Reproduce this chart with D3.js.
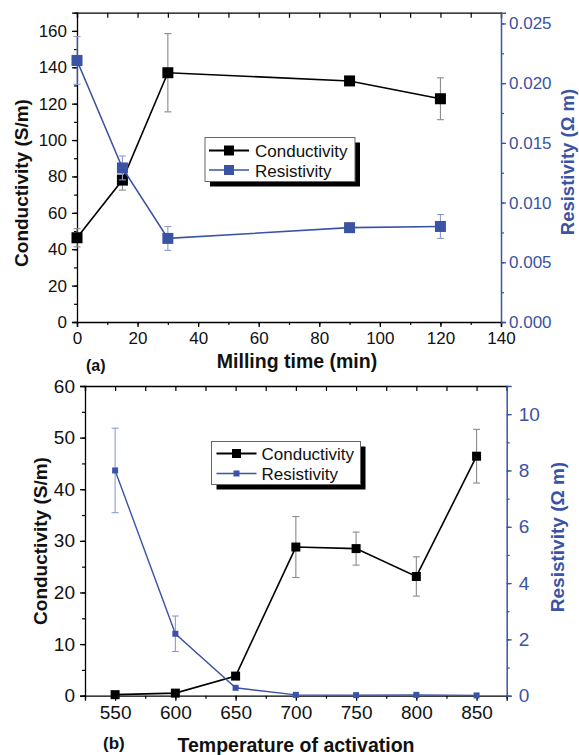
<!DOCTYPE html>
<html>
<head>
<meta charset="utf-8">
<script src="https://cdn.jsdelivr.net/npm/d3@7"></script>
<style>
  html, body { margin: 0; padding: 0; background: #fff; }
  svg { display: block; }
  text { font-family: "Liberation Sans", Arial, sans-serif; }
</style>
</head>
<body>
<svg id="chart" width="579" height="755"></svg>
<script>
// ---------- DATA ----------
// Panel (a): milling time
const millTime = [0, 15, 30, 90, 120];
const millConductivity = [46.3, 78, 137, 132.5, 122.7];
const millConductivityErr = [5, 5.5, 21.5, 0, 11.5];
const millResistivity = [0.0219, 0.0129, 0.0070, 0.0079, 0.0080];
const millResistivityErr = [0.002, 0.001, 0.001, 0, 0.001];
const millXTicks = [0, 20, 40, 60, 80, 100, 120, 140];
const millYLTicks = [0, 20, 40, 60, 80, 100, 120, 140, 160];
const millYRTicks = [0, 0.005, 0.010, 0.015, 0.020, 0.025];

// Panel (b): temperature of activation
const actTemp = [550, 600, 650, 700, 750, 800, 850];
const actConductivity = [0.2, 0.5, 3.8, 28.8, 28.5, 23.1, 46.4];
const actConductivityErr = [0, 0, 0, 5.9, 3.2, 3.8, 5.2];
const actResistivity = [8.0, 2.2, 0.28, 0.03, 0.02, 0.03, 0.01];
const actResistivityErr = [1.5, 0.63, 0, 0, 0, 0, 0];
const actXTicks = [550, 600, 650, 700, 750, 800, 850];
const actYLTicks = [0, 10, 20, 30, 40, 50, 60];
const actYRTicks = [0, 2, 4, 6, 8, 10];

const legendLabels = ["Conductivity", "Resistivity"];

// ---------- STYLE ----------
const BLUE = "#3a53a5";
const BLUE_ERR = "#8c9bd0";
const GREY_ERR = "#8a8a8a";

const svg = d3.select("#chart");

function panel(cfg) {
  const g = svg.append("g");
  const x = d3.scaleLinear().domain(cfg.xDomain).range(cfg.xRange);
  const yL = d3.scaleLinear().domain(cfg.yLDomain).range(cfg.yRange);
  const yR = d3.scaleLinear().domain(cfg.yRDomain).range(cfg.yRange);
  const [x0, x1] = cfg.xRange;
  const [yb, yt] = cfg.yRange;

  // top border with inward ticks
  const topAx = g.append("g").attr("transform", `translate(0,${yt})`)
    .call(d3.axisTop(x).tickValues(cfg.xMinorTicks).tickSize(-5).tickFormat(""));
  topAx.select(".domain").attr("stroke", "#000").attr("stroke-width", 1.3);
  topAx.selectAll(".tick line").attr("stroke", "#000").attr("stroke-width", 1.2);

  // bottom axis: minor
  const botMinor = g.append("g").attr("transform", `translate(0,${yb})`)
    .call(d3.axisBottom(x).tickValues(cfg.xMinorTicks).tickSize(3).tickFormat(""));
  botMinor.select(".domain").remove();
  botMinor.selectAll(".tick line").attr("stroke", "#000").attr("stroke-width", 1.2);
  // bottom axis: major
  const botAx = g.append("g").attr("transform", `translate(0,${yb})`)
    .call(d3.axisBottom(x).tickValues(cfg.xTicks).tickSize(5).tickPadding(cfg.xPad).tickFormat(d3.format("d")));
  botAx.select(".domain").attr("stroke", "#000").attr("stroke-width", 1.3);
  botAx.selectAll(".tick line").attr("stroke", "#000").attr("stroke-width", 1.3);
  botAx.selectAll(".tick text").attr("fill", "#111").style("font-size", cfg.tickFont + "px");

  // left axis
  const leftMinor = g.append("g").attr("transform", `translate(${x0},0)`)
    .call(d3.axisLeft(yL).tickValues(cfg.yLMinorTicks).tickSize(3).tickFormat(""));
  leftMinor.select(".domain").remove();
  leftMinor.selectAll(".tick line").attr("stroke", "#000").attr("stroke-width", 1.2);
  const leftAx = g.append("g").attr("transform", `translate(${x0},0)`)
    .call(d3.axisLeft(yL).tickValues(cfg.yLTicks).tickSize(5).tickPadding(5).tickFormat(d3.format("d")));
  leftAx.select(".domain").attr("stroke", "#000").attr("stroke-width", 1.3);
  leftAx.selectAll(".tick line").attr("stroke", "#000").attr("stroke-width", 1.3);
  leftAx.selectAll(".tick text").attr("fill", "#111").style("font-size", cfg.tickFont + "px");

  // right axis (blue)
  const rightMinor = g.append("g").attr("transform", `translate(${x1},0)`)
    .call(d3.axisRight(yR).tickValues(cfg.yRMinorTicks).tickSize(3).tickFormat(""));
  rightMinor.select(".domain").remove();
  rightMinor.selectAll(".tick line").attr("stroke", BLUE).attr("stroke-width", 1.2);
  const rightAx = g.append("g").attr("transform", `translate(${x1},0)`)
    .call(d3.axisRight(yR).tickValues(cfg.yRTicks).tickSize(5).tickPadding(cfg.rPad).tickFormat(cfg.yRFormat));
  rightAx.select(".domain").attr("stroke", BLUE).attr("stroke-width", 1.5);
  rightAx.selectAll(".tick line").attr("stroke", BLUE).attr("stroke-width", 1.3);
  rightAx.selectAll(".tick text").attr("fill", BLUE).style("font-size", cfg.tickFont + "px");

  // series helper
  function series(xs, ys, errs, yScale, color, errColor, lineW, size) {
    const pts = xs.map((v, i) => ({ x: v, y: ys[i], e: errs[i] }));
    const line = d3.line().x(d => x(d.x)).y(d => yScale(d.y));
    g.append("path").datum(pts).attr("d", line)
      .attr("fill", "none").attr("stroke", color).attr("stroke-width", lineW);
    const eb = g.append("g").attr("stroke", errColor).attr("stroke-width", 1.1);
    pts.filter(d => d.e > 0).forEach(d => {
      const cx = x(d.x), t = yScale(d.y + d.e), b = yScale(d.y - d.e);
      eb.append("line").attr("x1", cx).attr("x2", cx).attr("y1", t).attr("y2", b);
      eb.append("line").attr("x1", cx - 3.5).attr("x2", cx + 3.5).attr("y1", t).attr("y2", t);
      eb.append("line").attr("x1", cx - 3.5).attr("x2", cx + 3.5).attr("y1", b).attr("y2", b);
    });
    g.append("g").selectAll("rect").data(pts).join("rect")
      .attr("x", d => x(d.x) - size / 2).attr("y", d => yScale(d.y) - size / 2)
      .attr("width", size).attr("height", size).attr("fill", color);
  }
  cfg.drawOrder.forEach(s => {
    if (s === "c") series(cfg.xs, cfg.cond, cfg.condErr, yL, "#000", GREY_ERR, 1.6, cfg.cSize);
    else series(cfg.xs, cfg.res, cfg.resErr, yR, BLUE, BLUE_ERR, cfg.bLine, cfg.bSize);
  });

  // legend
  const L = cfg.legend;
  g.append("rect").attr("x", L.x + 5).attr("y", L.y + 5).attr("width", L.w).attr("height", L.h).attr("fill", "#000");
  g.append("rect").attr("x", L.x).attr("y", L.y).attr("width", L.w).attr("height", L.h)
    .attr("fill", "#fff").attr("stroke", "#666").attr("stroke-width", 1);
  const items = [
    { label: legendLabels[0], color: "#000", size: cfg.cLegSize, lw: 1.8 },
    { label: legendLabels[1], color: BLUE, size: cfg.bLegSize, lw: cfg.bLine }
  ];
  items.forEach((it, i) => {
    const yy = L.y + L.row0 + i * L.rowH;
    g.append("line").attr("x1", L.x + L.l0).attr("x2", L.x + L.l1).attr("y1", yy).attr("y2", yy)
      .attr("stroke", it.color).attr("stroke-width", it.lw);
    const cx = L.x + (L.l0 + L.l1) / 2;
    g.append("rect").attr("x", cx - it.size / 2).attr("y", yy - it.size / 2)
      .attr("width", it.size).attr("height", it.size).attr("fill", it.color);
    g.append("text").attr("x", L.x + L.tx).attr("y", yy + 6.5).text(it.label)
      .style("font-size", "17px").attr("fill", "#111");
  });

  // titles
  g.append("text").attr("transform", `translate(${cfg.lTitle[0]},${cfg.lTitle[1]}) rotate(-90)`)
    .attr("text-anchor", "middle").attr("dy", "0.36em").text("Conductivity (S/m)")
    .style("font-size", "19px").style("font-weight", "bold").attr("fill", "#111");
  g.append("text").attr("transform", `translate(${cfg.rTitle[0]},${cfg.rTitle[1]}) rotate(-90)`)
    .attr("text-anchor", "middle").attr("dy", "0.36em").text("Resistivity (Ω m)")
    .style("font-size", cfg.rTitleFont + "px").style("font-weight", "bold").attr("fill", BLUE);
  g.append("text").attr("x", cfg.xTitle[0]).attr("y", cfg.xTitle[1]).attr("text-anchor", "middle")
    .text(cfg.xTitleText).style("font-size", "19.5px").style("font-weight", "bold").attr("fill", "#111");
  g.append("text").attr("x", cfg.tag[0]).attr("y", cfg.tag[1]).text(cfg.tagText)
    .style("font-size", cfg.tagFont + "px").style("font-weight", "bold").attr("fill", "#111");
}

function minorBetween(domain, step) {
  const out = [];
  for (let v = domain[0]; v <= domain[1] + 1e-9; v += step) out.push(+v.toFixed(6));
  return out;
}

panel({
  xDomain: [0, 140], xRange: [77, 501],
  yLDomain: [0, 170], yRDomain: [0, 0.0259], yRange: [322, 12.7],
  xTicks: millXTicks, xMinorTicks: minorBetween([0, 140], 10),
  yLTicks: millYLTicks, yLMinorTicks: minorBetween([0, 170], 10),
  yRTicks: millYRTicks, yRMinorTicks: minorBetween([0, 0.025], 0.0025),
  yRFormat: d3.format(".3f"),
  tickFont: 17, xPad: 5, rPad: 3,
  xs: millTime, cond: millConductivity, condErr: millConductivityErr,
  res: millResistivity, resErr: millResistivityErr,
  drawOrder: ["c", "b"],
  cSize: 11, bSize: 11, bLine: 1.6, cLegSize: 10, bLegSize: 10,
  legend: { x: 205, y: 137.5, w: 150, h: 44, row0: 13, rowH: 19.5, l0: 4, l1: 44, tx: 50 },
  lTitle: [21, 183], rTitle: [567.5, 162], rTitleFont: 18.5,
  xTitle: [297, 368], xTitleText: "Milling time (min)",
  tag: [86, 371], tagText: "(a)", tagFont: 16
});

panel({
  xDomain: [525, 875], xRange: [85, 506.7],
  yLDomain: [0, 60], yRDomain: [0, 11], yRange: [695.7, 386],
  xTicks: actXTicks, xMinorTicks: minorBetween([525, 875], 25),
  yLTicks: actYLTicks, yLMinorTicks: minorBetween([0, 60], 5),
  yRTicks: actYRTicks, yRMinorTicks: minorBetween([0, 11], 1),
  yRFormat: d3.format("d"),
  tickFont: 19, xPad: 5, rPad: 7,
  xs: actTemp, cond: actConductivity, condErr: actConductivityErr,
  res: actResistivity, resErr: actResistivityErr,
  drawOrder: ["c", "b"],
  cSize: 9, bSize: 6, bLine: 1.4, cLegSize: 9, bLegSize: 6,
  legend: { x: 211.5, y: 441.5, w: 149, h: 43, row0: 12, rowH: 20, l0: 5, l1: 45, tx: 50 },
  lTitle: [40, 541], rTitle: [557, 537], rTitleFont: 19,
  xTitle: [296, 752], xTitleText: "Temperature of activation",
  tag: [103, 749], tagText: "(b)", tagFont: 17
});
</script>
</body>
</html>
